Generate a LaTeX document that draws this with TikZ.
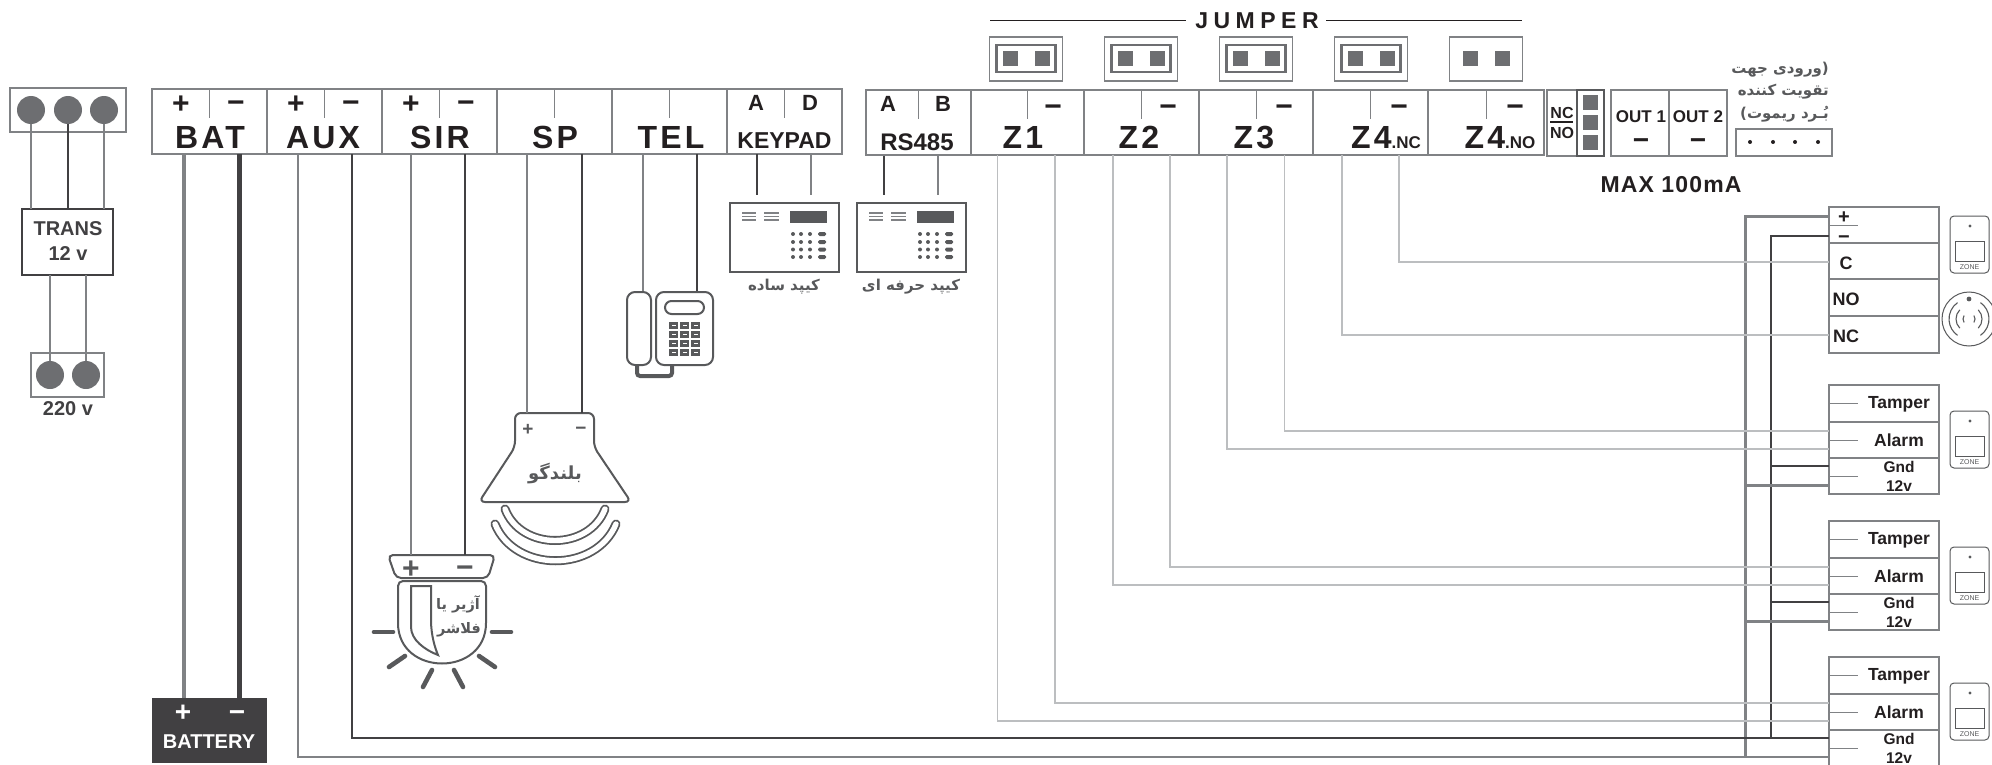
\documentclass[tikz,border=0pt]{standalone}
\usepackage{fontspec}
\setmainfont{Liberation Sans}
\newfontfamily\farsi[Script=Arabic]{DejaVu Sans}
\TeXXeTstate=1
\newcommand{\fs}[1]{\fontsize{#1}{#1}\selectfont}
\newcommand{\fatext}[1]{{\farsi\beginR #1\endR}}
\definecolor{inkblack}{HTML}{231F20}
\definecolor{inkdark}{HTML}{414042}
\definecolor{inkicon}{HTML}{58595B}
\definecolor{inkpad}{HTML}{6D6E71}
\definecolor{inkgray}{HTML}{808285}
\definecolor{inklight}{HTML}{BCBEC0}
\tikzset{
  cell/.style={draw=inkgray,line width=1.1,inner sep=0,outer sep=0},
  lbl/.style={inner sep=0,text=inkblack,font=\bfseries\fs{#1}},
  plusmark/.style={lbl=#1,yshift={-0.085*#1}},
  minusmark/.style={lbl=#1,yshift={-0.17*#1}},
  bigl/.style={inner sep=0,anchor=base,text=inkblack,font=\bfseries\fs{32}\addfontfeature{LetterSpace=10}},
  falbl/.style={inner sep=0,text=inkicon,font=\bfseries\fs{#1}},
  tick/.style={draw=inkgray,line width=1},
  wiregray/.style={draw=inkgray,line width=2.6},
  wiredark/.style={draw=inkdark,line width=2.6},
  wirelight/.style={draw=inklight,line width=1.3},
  iconline/.style={draw=inkicon,line width=2},
  pad/.style={fill=inkpad}
}
\begin{document}
\begin{tikzpicture}[x=1pt,y=-1pt]
    \clip (0,0) rectangle (1992,765);
    % transformer
    \node (mains) [cell,minimum width=116,minimum height=44] at (68,110) {};
    \node (trans) [draw=inkdark,line width=2.4,inner sep=0,outer sep=0,minimum width=91,minimum height=66] at (67.5,242) {};
    \node (power) [cell,minimum width=73,minimum height=44] at (67.5,375) {};
    \node (mainsa) [circle,fill=inkpad,minimum size=28,inner sep=0] at (31,110) {};
    \node (mainsb) [circle,fill=inkpad,minimum size=28,inner sep=0] at (68,110) {};
    \node (mainsc) [circle,fill=inkpad,minimum size=28,inner sep=0] at (104,110) {};
    \node (powera) [circle,fill=inkpad,minimum size=28,inner sep=0] at (50,375) {};
    \node (powerb) [circle,fill=inkpad,minimum size=28,inner sep=0] at (86,375) {};
    \draw[wiregray] (mainsa) -- (mainsa |- trans.north);
    \draw[wiredark] (mainsb) -- (mainsb |- trans.north);
    \draw[wiregray] (mainsc) -- (mainsc |- trans.north);
    \draw[wiregray] (powera |- trans.south) -- (powera);
    \draw[wiregray] (powerb |- trans.south) -- (powerb);
    \node (transa) [lbl=20,text=inkdark] at (68,229) {TRANS};
    \node (transb) [lbl=20,text=inkdark] at (68,254) {12 v};
    \node (powerl) [lbl=20,text=inkdark] at (68,409) {220 v};

    % terminal strip, left part
    \foreach \nm/\cx in {bat/209.5,aux/324.5,sir/439.5,sp/554.5,tel/669.5,keypad/784.5}{
        \node (\nm) [cell,minimum width=115,minimum height=65] at (\cx,121.5) {};
        \draw[tick] (\nm.north) -- ++(0,29);
    }
    \foreach \nm/\cx in {bat/181,aux/296,sir/411}{
        \node (\nm plus) [plusmark=30] at (\cx,102) {+};
        \node (\nm minus) [minusmark=30] at (\cx+55,102) {−};
    }
    \node (batl) [bigl] at (210,149) {BAT};
    \node (auxl) [bigl] at (323,149) {AUX};
    \node (sirl) [bigl] at (440,149) {SIR};
    \node (spl) [bigl] at (555,149) {SP};
    \node (tell) [bigl] at (671,149) {TEL};
    \node (keya) [lbl=22] at (756,103) {A};
    \node (keyd) [lbl=22] at (810,103) {D};
    \node (keyl) [lbl=23,anchor=base] at (784.5,149) {KEYPAD};

    % terminal strip, right part
    \foreach \nm/\cx/\wdt in {rs/918.5/105,zone/1027.5/113,ztwo/1141.5/115,zthree/1256/114,zfour/1370.5/115,zfive/1486/116}{
        \node (\nm) [cell,minimum width=\wdt,minimum height=65] at (\cx,122.5) {};
        \draw[tick] (\nm.north) -- ++(0,29);
    }
    \foreach \nm/\cx in {zone/1053,ztwo/1168,zthree/1284,zfour/1399,zfive/1515}{
        \node (\nm minus) [minusmark=30] at (\cx,106) {−};
    }
    \node (rsa) [lbl=22] at (888,104) {A};
    \node (rsb) [lbl=22] at (943,104) {B};
    \node (rsl) [lbl=24,anchor=base] at (917,150) {RS485};
    \node (zonel) [bigl] at (1023,149) {Z1};
    \node (ztwol) [bigl] at (1139,149) {Z2};
    \node (zthreel) [bigl] at (1254,149) {Z3};
    \node (zfourl) [bigl] at (1386,149) {Z4\addfontfeature{LetterSpace=0}\fs{17}.NC};
    \node (zfivel) [bigl] at (1500,149) {Z4\addfontfeature{LetterSpace=0}\fs{17}.NO};

    % jumpers
    \node (jumper) [lbl=23,font=\bfseries\fs{23}\addfontfeature{LetterSpace=24}] at (1257,21) {JUMPER};
    \coordinate (jumpa) at (990,21);
    \coordinate (jumpb) at (1186,21);
    \coordinate (jumpc) at (1326,21);
    \coordinate (jumpd) at (1522,21);
    \draw[draw=inkblack,line width=1] (jumpa) -- (jumpb);
    \draw[draw=inkblack,line width=1] (jumpc) -- (jumpd);
    \foreach \kk/\cx in {1/1026,2/1141,3/1256,4/1371,5/1486}{
        \node (jbox\kk) [cell,minimum width=73,minimum height=44] at (\cx,59) {};
        \fill[pad] ({\cx-23},51) rectangle +(15,15);
        \fill[pad] ({\cx+9},51) rectangle +(15,15);
    }
    \foreach \cx in {1026,1141,1256,1371}{
        \draw[draw=inkpad,line width=2.4] ({\cx-29.5},45) rectangle ({\cx+29.5},72);
    }

    % NC / NO and outputs
    \node (ncbox) [cell,minimum width=57,minimum height=66] at (1575.5,123) {};
    \node (pinbox) [draw=inkicon,line width=2.4,inner sep=0,minimum width=27,minimum height=66] at (1590.5,123) {};
    \foreach \yy in {95,115,135}{
        \fill[pad] (1583,\yy) rectangle +(15,15);
    }
    \node (ncl) [lbl=16] at (1562,113) {NC};
    \node (nol) [lbl=16] at (1562,133) {NO};
    \coordinate (nca) at (1550,122);
    \coordinate (ncb) at (1573,122);
    \draw[draw=inkblack,line width=2.4] (nca) -- (ncb);
    \node (outa) [cell,minimum width=58,minimum height=66] at (1640,123) {};
    \node (outb) [cell,minimum width=58,minimum height=66] at (1698,123) {};
    \node (outal) [lbl=17] at (1641,117) {OUT 1};
    \node (outbl) [lbl=17] at (1698,117) {OUT 2};
    \node (outam) [minusmark=28] at (1641,139) {−};
    \node (outbm) [minusmark=28] at (1698,139) {−};
    \node (maxl) [lbl=23,font=\bfseries\fs{23}\addfontfeature{LetterSpace=5}] at (1671,185) {MAX 100mA};

    % remote board
    \node (remote) [cell,minimum width=96,minimum height=27] at (1784,142.5) {};
    \foreach \dx in {1750,1773,1795,1818}{
        \fill[inkblack] (\dx,142) circle (2pt);
    }
    \node (remotea) [falbl=15,anchor=east] at (1829,70) {\fatext{(ورودی جهت}};
    \node (remoteb) [falbl=15,anchor=east] at (1829,92) {\fatext{تقویت کننده}};
    \node (remotec) [falbl=15,anchor=east] at (1829,114) {\fatext{بُـرد ریموت)}};

    % keypads
    \foreach \kx/\nm/\keycap in {0/keysimple/کیپد ساده,127/keypro/کیپد حرفه ای}{
        \begin{scope}[xshift=\kx]
            \node (\nm) [draw=inkicon,line width=2.4,inner sep=0,minimum width=109,minimum height=69] at (784.5,237.5) {};
            \foreach \yy in {213,216.5,220}{
                \draw[draw=inkgray,line width=1.2] (742,\yy) -- (756,\yy);
                \draw[draw=inkgray,line width=1.2] (764,\yy) -- (779,\yy);
            }
            \fill[inkicon] (790,211) rectangle (827,223);
            \foreach \yy in {234,242,249.5,257}{
                \fill[inkicon] (793,\yy) circle (2pt);
                \fill[inkicon] (801,\yy) circle (2pt);
                \fill[inkicon] (810,\yy) circle (2pt);
                \fill[inkicon,rounded corners=1.5] (818,\yy-2) rectangle (826,\yy+2);
            }
            \node (\nm l) [falbl=15] at (784,287) {\fatext{\keycap}};
        \end{scope}
    }
    \coordinate (kpa) at (757,154);
    \coordinate (kpaend) at (757,195);
    \coordinate (kpd) at (811,154);
    \coordinate (kpdend) at (811,195);
    \coordinate (rsap) at (884,156);
    \coordinate (rsaend) at (884,195);
    \coordinate (rsbp) at (938,156);
    \coordinate (rsbend) at (938,195);
    \draw[wiredark] (kpa) -- (kpaend);
    \draw[wiregray] (kpd) -- (kpdend);
    \draw[wiredark] (rsap) -- (rsaend);
    \draw[wiregray] (rsbp) -- (rsbend);

    % phone
    \coordinate (cordl) at (637,365);
    \coordinate (cordr) at (672,365);
    \draw[draw=inkicon,line width=4,rounded corners=3] (cordl) -- (637,376) -- (672,376) -- (cordr);
    \node (handset) [iconline,rounded corners=8,inner sep=0,fill=white,minimum width=24,minimum height=73] at (639,328.5) {};
    \node (phone) [iconline,rounded corners=8,inner sep=0,fill=white,minimum width=57,minimum height=73] at (684.5,328.5) {};
    \node (screen) [iconline,rounded corners=6.5,inner sep=0,minimum width=39,minimum height=13] at (684.5,307.5) {};
    \foreach \rr in {0,1,2,3}{
        \foreach \cc in {0,1,2}{
            \fill[inkicon] ({669+11*\cc},{322+9*\rr}) rectangle +(9,6.5);
            \fill[white] ({671.5+11*\cc},{324.7+9*\rr}) rectangle +(4,1.2);
        }
    }

    % speaker
    \draw[iconline,rounded corners=6] (555,502) -- (479,502) -- (515,447) -- (515,413) -- (594,413) -- (594,447) -- (631,502) -- cycle;
    \node (spkplus) [plusmark=19,text=inkicon] at (528,428) {+};
    \node (spkminus) [minusmark=19,text=inkicon] at (581,428) {−};
    \node (spkl) [falbl=18] at (555,474) {\fatext{بلندگو}};
    \draw[draw=inkicon,line width=9,line cap=round] (505,509) .. controls (521,551) and (589,551) .. (605,509);
    \draw[draw=white,line width=5.4,line cap=round] (505,509) .. controls (521,551) and (589,551) .. (605,509);
    \draw[draw=inkicon,line width=9,line cap=round] (495,524) .. controls (515,573) and (596,573) .. (616,524);
    \draw[draw=white,line width=5.4,line cap=round] (495,524) .. controls (515,573) and (596,573) .. (616,524);

    % siren
    \draw[iconline,rounded corners=5] (388,555) -- (495,555) -- (488,578) -- (396,578) -- cycle;
    \node (sirplus) [plusmark=30,text=inkicon] at (411,567) {+};
    \node (sirminus) [minusmark=30,text=inkicon] at (465,567) {−};
    \draw[iconline,rounded corners=5] (398,618) -- (398,581) -- (486,581) -- (486,618) .. controls (486,677) and (398,677) .. (398,618) -- cycle;
    \draw[iconline] (411,586) -- (431,586) -- (431,620) .. controls (431,635) and (435,648) .. (438,655) .. controls (425,650) and (411,640) .. (411,627) -- cycle;
    \node (sira) [falbl=14.5] at (458,604) {\fatext{آژیر یا}};
    \node (sirb) [falbl=14.5] at (459,630) {\fatext{فلاشر}};
    \foreach \ax/\ay/\bx/\by in {374/632/393/632,492/632/511/632,405/656/389/667,479/656/495/667,432/670/423/687,454/670/463/687}{
        \draw[draw=inkicon,line width=4.6,line cap=round] (\ax,\ay) -- (\bx,\by);
    }

    % battery
    \node (battery) [fill=inkdark,inner sep=0,outer sep=0,minimum width=115,minimum height=65] at (209.5,730.5) {};
    \node (batteryp) [plusmark=28,text=white] at (183,711) {+};
    \node (batterym) [minusmark=28,text=white] at (237,711) {−};
    \node (batteryl) [lbl=20,text=white] at (209,742) {BATTERY};

    % wires from the left strip
    \coordinate (batp) at (184,154);
    \coordinate (batn) at (239,154);
    \coordinate (auxp) at (298,154);
    \coordinate (auxn) at (352,154);
    \coordinate (sirp) at (411,154);
    \coordinate (sirn) at (465,154);
    \coordinate (spp) at (527,154);
    \coordinate (spn) at (582,154);
    \coordinate (spkp) at (527,413);
    \coordinate (spkn) at (582,413);
    \coordinate (siplus) at (411,555);
    \coordinate (siminus) at (465,555);
    \coordinate (telp) at (643,154);
    \coordinate (teln) at (697,154);
    \draw[wiregray,line width=4.4] (batp) -- (batp |- battery.north);
    \draw[wiredark,line width=5] (batn) -- (batn |- battery.north);
    \draw[wiregray] (sirp) -- (siplus);
    \draw[wiredark] (sirn) -- (siminus);
    \draw[wiregray] (spp) -- (spkp);
    \draw[wiredark] (spn) -- (spkn);
    \draw[wiregray] (telp) -- (telp |- handset.north);
    \draw[wiredark] (teln) -- (teln |- phone.north);

    % alarm boxes on the right
    \node (plusbox) [cell,minimum width=110,minimum height=36] at (1884,225) {};
    \node (cbox) [cell,minimum width=110,minimum height=36] at (1884,261) {};
    \node (nobox) [cell,minimum width=110,minimum height=37] at (1884,297.5) {};
    \node (ncrow) [cell,minimum width=110,minimum height=37] at (1884,334.5) {};
    \node (plusl) [plusmark=20] at (1844,216) {+};
    \node (minusl) [minusmark=20] at (1844,236) {−};
    \coordinate (plusa) at (1829,225);
    \coordinate (plusb) at (1858,225);
    \draw[tick] (plusa) -- (plusb);
    \node (cl) [lbl=18] at (1846,263) {C};
    \node (nolab) [lbl=18] at (1846,299) {NO};
    \node (nclab) [lbl=18] at (1846,336) {NC};
    \coordinate (plusin) at (1829,216);
    \coordinate (minusin) at (1829,236);
    \coordinate (cin) at (1829,262);
    \coordinate (ncin) at (1829,335);
    \foreach \kk/\yo in {1/0,2/136,3/272}{
        \node (tamper\kk) [cell,minimum width=110,minimum height=37] at (1884,{403.5+\yo}) {};
        \node (alarm\kk) [cell,minimum width=110,minimum height=36] at (1884,{440+\yo}) {};
        \node (gnd\kk) [cell,minimum width=110,minimum height=36] at (1884,{476+\yo}) {};
        \draw[tick] (tamper\kk.west) -- ++(29,0);
        \draw[tick] (alarm\kk.west) -- ++(29,0);
        \draw[tick] (gnd\kk.west) -- ++(29,0);
        \node (tamper\kk l) [lbl=17.5] at (1899,{404+\yo}) {Tamper};
        \node (alarm\kk l) [lbl=17.5] at (1899,{440+\yo}) {Alarm};
        \node (gnd\kk l) [lbl=15.5] at (1899,{467+\yo}) {Gnd};
        \node (volt\kk l) [lbl=15.5] at (1899,{486+\yo}) {12v};
        \coordinate (ina\kk) at (1829,{431+\yo});
        \coordinate (inb\kk) at (1829,{449+\yo});
        \coordinate (ing\kk) at (1829,{466+\yo});
        \coordinate (inv\kk) at (1829,{485+\yo});
    }

    % power buses
    \coordinate (busp) at (1745,216);
    \coordinate (busn) at (1771,236);
    \draw[wiregray,line width=3] (plusin) -- (busp) -- (busp |- inv3);
    \draw[wiredark] (minusin) -- (busn) -- (busn |- ing3);
    \draw[wiregray] (auxp) |- (inv3);
    \draw[wiredark] (auxn) |- (ing3);
    \draw[wiregray,line width=3] (busp |- inv1) -- (inv1);
    \draw[wiregray,line width=3] (busp |- inv2) -- (inv2);
    \draw[wiredark] (busn |- ing1) -- (ing1);
    \draw[wiredark] (busn |- ing2) -- (ing2);

    % zone wires
    \coordinate (zap) at (997.5,155);
    \coordinate (zan) at (1055,155);
    \coordinate (zbp) at (1113,155);
    \coordinate (zbn) at (1170,155);
    \coordinate (zcp) at (1227,155);
    \coordinate (zcn) at (1284.5,155);
    \coordinate (zdp) at (1342,155);
    \coordinate (zdn) at (1399,155);
    \draw[wirelight] (zap) |- (inb3);
    \draw[wirelight] (zan) |- (ina3);
    \draw[wirelight] (zbp) |- (inb2);
    \draw[wirelight] (zbn) |- (ina2);
    \draw[wirelight] (zcp) |- (inb1);
    \draw[wirelight] (zcn) |- (ina1);
    \draw[wirelight] (zdp) |- (ncin);
    \draw[wirelight] (zdn) |- (cin);

    % zone sensors
    \foreach \kk/\yo in {a/-195,b/0,c/136,d/272}{
        \begin{scope}[shift={(0,\yo)}]
            \node (sensor\kk) [draw=inkicon,line width=1,rounded corners=4,inner sep=0,minimum width=39,minimum height=57] at (1969.5,439.5) {};
            \fill[inkicon] (1970,421) circle (1.6pt);
            \draw[draw=inkicon,line width=1] (1955,436) rectangle (1984,456);
            \node (sensor\kk l) [inner sep=0,text=inkicon,font=\fs{7}] at (1969.5,462) {ZONE};
        \end{scope}
    }
    \node (bell) [draw=inkicon,line width=1,circle,inner sep=0,minimum size=54] at (1969,319) {};
    \fill[inkicon] (1969,299) circle (2.4pt);
    \foreach \rad/\spn in {6/35,13/45,20/55}{
        \draw[draw=inkicon,line width=1.1] (bell.center) ++(180-\spn:\rad pt) arc (180-\spn:180+\spn:\rad pt);
        \draw[draw=inkicon,line width=1.1] (bell.center) ++(-\spn:\rad pt) arc (-\spn:\spn:\rad pt);
    }
\end{tikzpicture}
\end{document}
